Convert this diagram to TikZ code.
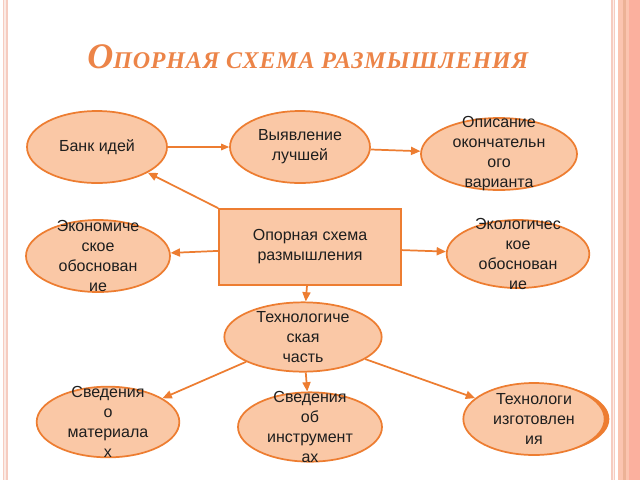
\documentclass[tikz,border=0pt]{standalone}
\usepackage{fontspec}
\setmainfont{Liberation Sans}
\newfontfamily\titlefont{Liberation Serif}
\usetikzlibrary{shapes.geometric,arrows.meta}
\definecolor{fillpeach}{RGB}{250,200,166}
\definecolor{edgeorange}{RGB}{237,125,49}
\definecolor{titleorange}{RGB}{236,132,72}
\definecolor{stripepink}{RGB}{246,204,192}
\definecolor{sidesalmon}{RGB}{251,196,176}
\definecolor{sidetan}{RGB}{236,178,150}
\definecolor{textgray}{RGB}{30,30,30}
\tikzset{
  oval/.style={ellipse, draw=edgeorange, fill=fillpeach, line width=1.3pt, inner sep=0pt},
  boxnode/.style={rectangle, draw=edgeorange, fill=fillpeach, line width=1.3pt, inner sep=0pt},
  lbl/.style={align=center, text=textgray, font=\fontsize{12}{15}\selectfont, inner sep=0pt},
  link/.style={draw=edgeorange, line width=1.3pt, -{Triangle[length=7pt,width=6pt]}},
  thinlink/.style={draw=edgeorange, line width=0.8pt, -{Triangle[length=6pt,width=5pt]}}
}
\begin{document}
\begin{tikzpicture}[x=0.75pt,y=-0.75pt]
\useasboundingbox (0,0) rectangle (640,480);
\fill[white] (0,0) rectangle (640,480);
% borders
\fill[stripepink] (2.5,0) rectangle (7.5,480);
\fill[white!60!stripepink] (4.3,0) rectangle (5.7,480);
\fill[stripepink] (611,0) rectangle (615,480);
\fill[white!70!stripepink] (612.5,0) rectangle (613.5,480);
\fill[sidesalmon] (618,0) rectangle (640,480);
\fill[sidetan] (623,0) rectangle (626,480);
\fill[sidesalmon!90!red] (629,0) rectangle (640,480);
% title
\node[anchor=base west, inner sep=0pt, text=titleorange] (title) at (87,68)
  {\titlefont\itshape\bfseries{\fontsize{27}{27}\selectfont О}{\fontsize{18}{18}\selectfont\addfontfeature{LetterSpace=3.5}ПОРНАЯ СХЕМА РАЗМЫШЛЕНИЯ}};
% nodes
\node[oval, minimum width=105pt, minimum height=54pt] (bank) at (97,147) {};
\node[lbl] at (bank) {Банк идей};
\node[oval, minimum width=105pt, minimum height=54pt] (best) at (300,147) {};
\node[lbl] at (best) {Выявление\\лучшей};
\node[oval, minimum width=117pt, minimum height=54pt] (final) at (499,154) {};
\node[lbl] at (final) {Описание\\окончательн\\ого\\варианта};
\node[oval, minimum width=108pt, minimum height=54pt] (econ) at (98,256) {};
\node[lbl] at (econ) {Экономиче\\ское\\обоснован\\ие};
\node[boxnode, minimum width=136.5pt, minimum height=57pt] (core) at (310,247) {};
\node[lbl] at (core) {Опорная схема\\размышления};
\node[oval, minimum width=107pt, minimum height=51pt] (ecol) at (518,254) {};
\node[lbl] at (ecol) {Экологичес\\кое\\обоснован\\ие};
\node[oval, minimum width=118pt, minimum height=52pt] (tech) at (303,337) {};
\node[lbl] at (tech) {Технологиче\\ская\\часть};
\node[oval, minimum width=107pt, minimum height=53pt] (mat) at (108,422) {};
\node[lbl] at (mat) {Сведения\\о\\материала\\х};
\node[oval, minimum width=108pt, minimum height=52pt] (tool) at (310,427) {};
\node[lbl] at (tool) {Сведения\\об\\инструмент\\ах};
\node[ellipse, fill=edgeorange, minimum width=104pt, minimum height=52pt, inner sep=0pt] (techshadow) at (540,419) {};
\node[oval, minimum width=106pt, minimum height=54pt] (make) at (534,419) {};
\node[lbl] at (make) {Технологи\\изготовлен\\ия};
% connectors
\draw[thinlink] (bank) -- (best);
\draw[link] (best) -- (final);
\draw[link] (core.north west) -- (bank);
\draw[link] (core) -- (econ);
\draw[link] (core) -- (ecol);
\draw[link] (core) -- (tech);
\draw[link] (tech) -- (mat);
\draw[link] (tech) -- (tool);
\draw[link] (tech) -- (make);
\end{tikzpicture}
\end{document}
